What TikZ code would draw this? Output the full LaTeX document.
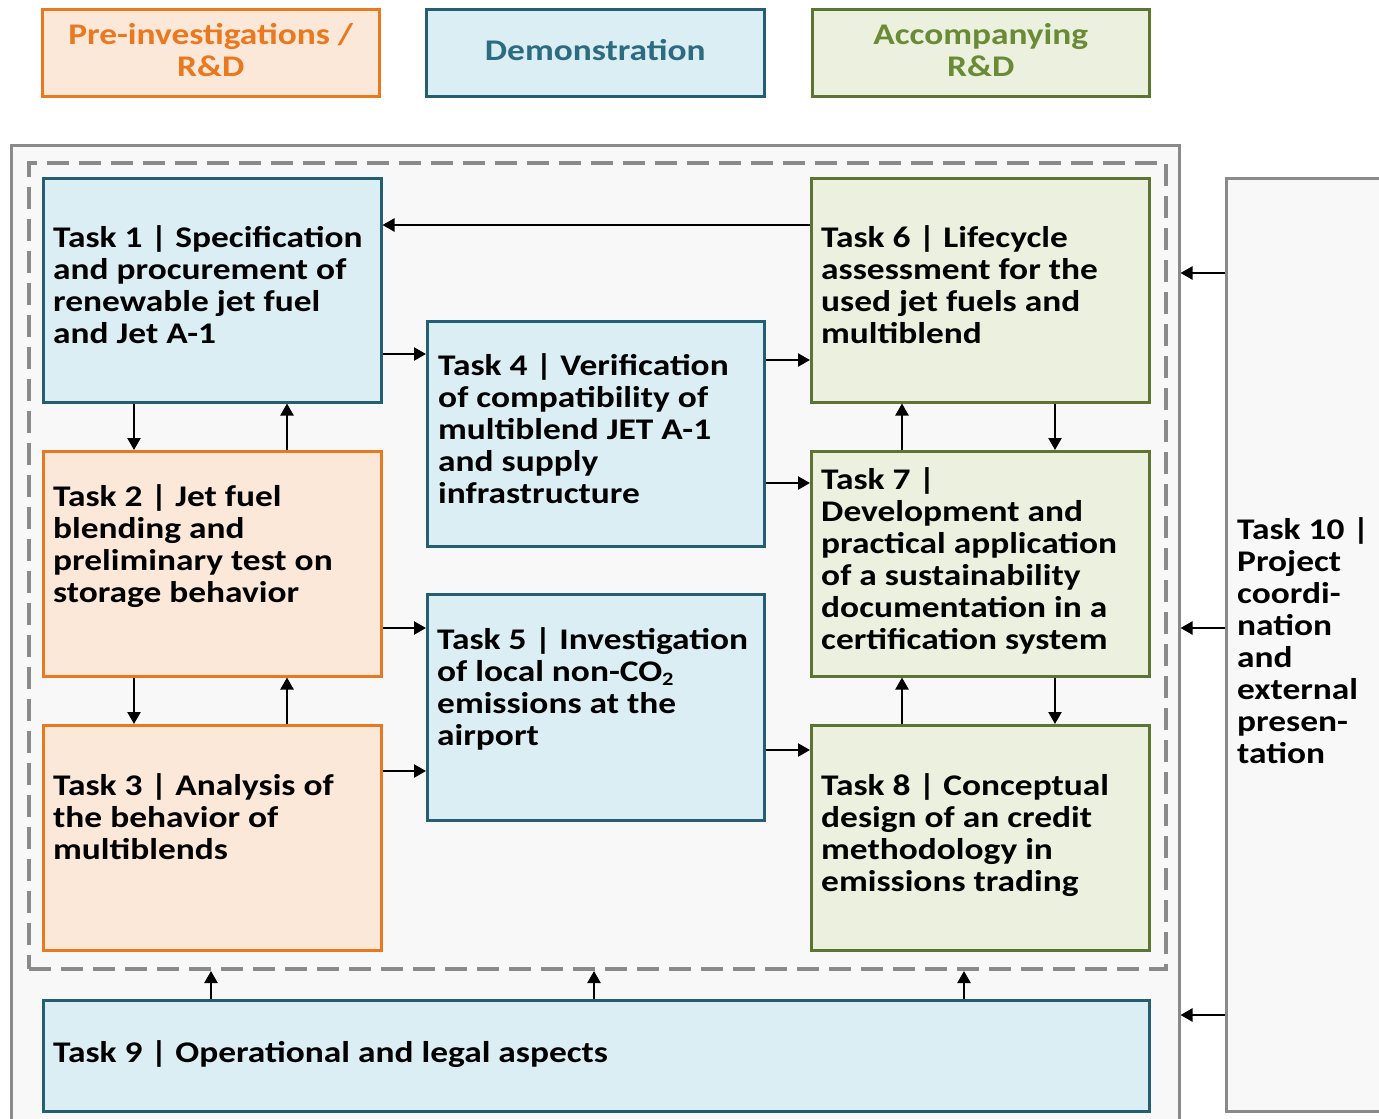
\documentclass[tikz,border=0pt]{standalone}
\usepackage{fontspec}
\setmainfont{Carlito}[FakeStretch=1.18]
\usetikzlibrary{arrows.meta}
\definecolor{bfill}{HTML}{DAEEF3}
\definecolor{bdraw}{HTML}{245E72}
\definecolor{btext}{HTML}{2C6B80}
\definecolor{ofill}{HTML}{FCE8D9}
\definecolor{odraw}{HTML}{E9781F}
\definecolor{gfill}{HTML}{EBF1DE}
\definecolor{gdraw}{HTML}{5C7530}
\definecolor{gtext}{HTML}{6A8A35}
\definecolor{grayline}{HTML}{8A8A8A}
\definecolor{grayfill}{HTML}{F8F8F8}
\newcommand\tfont{\fontsize{30}{32}\selectfont\bfseries}
\newcommand\tstrut{\rule{0pt}{24pt}}
\tikzset{
  box/.style={anchor=north west, inner sep=0pt, line width=2.5pt},
  bluebox/.style={box, draw=bdraw, fill=bfill},
  orabox/.style={box, draw=odraw, fill=ofill},
  grnbox/.style={box, draw=gdraw, fill=gfill},
  tasktext/.style={anchor=north west, inner sep=0pt, align=left, font=\tfont},
  legtext/.style={inner sep=0pt, align=center, font=\tfont, yshift=3pt},
  arr/.style={line width=2.3pt, -{Triangle[length=12pt,width=13pt]}},
}
\begin{document}
\begin{tikzpicture}[x=1pt,y=-1pt]
\clip (0,0) rectangle (1379,1119);
\fill[white] (0,0) rectangle (1379,1119);
% legend
\node[orabox, minimum width=337pt, minimum height=87pt] (lo) at (41,8) {};
\node[bluebox, minimum width=338pt, minimum height=87pt] (lb) at (425,8) {};
\node[grnbox, minimum width=337pt, minimum height=87pt] (lg) at (811,8) {};
\node[legtext, text=odraw] (lot) at (lo.center) {Pre-investigations /\\R\&D};
\node[legtext, text=btext] (lbt) at (lb.center) {Demonstration};
\node[legtext, text=gtext] (lgt) at (lg.center) {Accompanying\\R\&D};
% outer and dashed frames
\node[box, draw=grayline, fill=grayfill, minimum width=1168pt, minimum height=1000pt] (outer) at (10,144) {};
\node[box, draw=grayline, line width=4pt, dash pattern=on 22pt off 10pt, minimum width=1137pt, minimum height=806pt] (dash) at (27,161) {};
\node[box, draw=grayline, fill=grayfill, minimum width=200pt, minimum height=933pt] (t10box) at (1225,177) {};
% task boxes
\node[bluebox, minimum width=338pt, minimum height=224pt] (t1) at (42,177) {};
\node[orabox, minimum width=338pt, minimum height=225pt] (t2) at (42,450) {};
\node[orabox, minimum width=338pt, minimum height=225pt] (t3) at (42,724) {};
\node[bluebox, minimum width=337pt, minimum height=225pt] (t4) at (426,320) {};
\node[bluebox, minimum width=337pt, minimum height=226pt] (t5) at (426,593) {};
\node[grnbox, minimum width=338pt, minimum height=224pt] (t6) at (810,177) {};
\node[grnbox, minimum width=338pt, minimum height=225pt] (t7) at (810,450) {};
\node[grnbox, minimum width=338pt, minimum height=225pt] (t8) at (810,724) {};
\node[bluebox, minimum width=1106pt, minimum height=111pt] (t9) at (42,999) {};
% texts
\node[tasktext] (x1) at (53,223) {\tstrut Task 1 | Specification\\and procurement of\\renewable jet fuel\\and Jet A-1};
\node[tasktext] (x2) at (53,482) {\tstrut Task 2 | Jet fuel\\blending and\\preliminary test on\\storage behavior};
\node[tasktext] (x3) at (53,771) {\tstrut Task 3 | Analysis of\\the behavior of\\multiblends};
\node[tasktext] (x4) at (438,351) {\tstrut Task 4 | Verification\\of compatibility of\\multiblend JET A-1\\and supply\\infrastructure};
\node[tasktext] (x5) at (437,625) {\tstrut Task 5 | Investigation\\of local non-CO{\fontsize{19}{19}\selectfont\raisebox{-4pt}{2}}\\emissions at the\\airport};
\node[tasktext] (x6) at (821,223) {\tstrut Task 6 | Lifecycle\\assessment for the\\used jet fuels and\\multiblend};
\node[tasktext] (x7) at (821,465) {\tstrut Task 7 |\\Development and\\practical application\\of a sustainability\\documentation in a\\certification system};
\node[tasktext] (x8) at (821,771) {\tstrut Task 8 | Conceptual\\design of an credit\\methodology in\\emissions trading};
\node[tasktext] (x9) at (53,1038) {\tstrut Task 9 | Operational and legal aspects};
\node[tasktext] (x10) at (1237,515) {\tstrut Task 10 |\\Project\\coordi-\\nation\\and\\external\\presen-\\tation};
% horizontal arrows
\draw[arr] (t6.west |- 0,225) -- (t1.east |- 0,225);
\draw[arr] (t1.east |- 0,354) -- (t4.west |- 0,354);
\draw[arr] (t4.east |- 0,360) -- (t6.west |- 0,360);
\draw[arr] (t4.east |- 0,483) -- (t7.west |- 0,483);
\draw[arr] (t2.east |- 0,628) -- (t5.west |- 0,628);
\draw[arr] (t3.east |- 0,771) -- (t5.west |- 0,771);
\draw[arr] (t5.east |- 0,750) -- (t8.west |- 0,750);
% vertical arrows
\draw[arr] (t1.south -| 134,0) -- (t2.north -| 134,0);
\draw[arr] (t2.north -| 287,0) -- (t1.south -| 287,0);
\draw[arr] (t2.south -| 134,0) -- (t3.north -| 134,0);
\draw[arr] (t3.north -| 287,0) -- (t2.south -| 287,0);
\draw[arr] (t7.north -| 902,0) -- (t6.south -| 902,0);
\draw[arr] (t6.south -| 1055,0) -- (t7.north -| 1055,0);
\draw[arr] (t8.north -| 902,0) -- (t7.south -| 902,0);
\draw[arr] (t7.south -| 1055,0) -- (t8.north -| 1055,0);
% task 9 to frame
\draw[arr] (t9.north -| 211,0) -- (dash.south -| 211,0);
\draw[arr] (t9.north -| 594,0) -- (dash.south -| 594,0);
\draw[arr] (t9.north -| 964,0) -- (dash.south -| 964,0);
% task 10 to outer
\draw[arr] (t10box.west |- 0,273) -- (outer.east |- 0,273);
\draw[arr] (t10box.west |- 0,628) -- (outer.east |- 0,628);
\draw[arr] (t10box.west |- 0,1015) -- (outer.east |- 0,1015);
\end{tikzpicture}
\end{document}
